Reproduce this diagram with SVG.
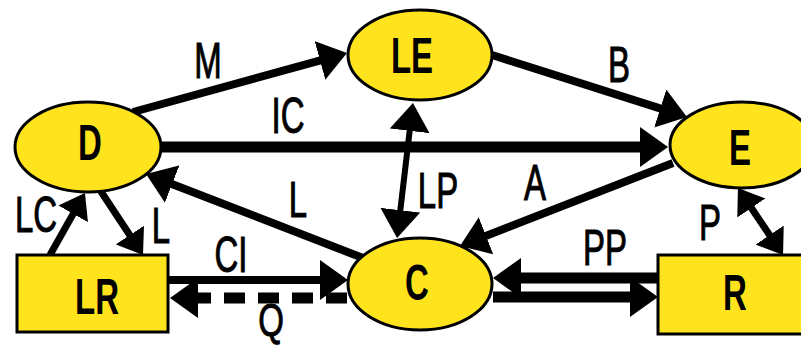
<svg xmlns="http://www.w3.org/2000/svg" width="801" height="349" viewBox="0 0 801 349">
<defs>
<style>
.node{fill:#FFE31C;stroke:#000;stroke-width:3}
.nt{font-family:"Liberation Sans",Arial,sans-serif;font-size:33px;font-weight:bold;fill:#000;text-anchor:middle}
.lt{font-family:"Liberation Sans",Arial,sans-serif;font-size:33px;fill:#000;stroke:#000;stroke-width:0.7px;text-anchor:middle}
.c{fill:none;stroke:#000;stroke-linecap:butt}
</style>
<marker id="ah" viewBox="0 0 28 40" markerWidth="28" markerHeight="40" markerUnits="userSpaceOnUse" refX="8" refY="20" orient="auto-start-reverse">
<path d="M0,0 L28,20 L0,40 Z" fill="#000"/>
</marker>
<marker id="ahs" viewBox="0 0 24 34" markerWidth="24" markerHeight="34" markerUnits="userSpaceOnUse" refX="8" refY="17" orient="auto-start-reverse">
<path d="M0,0 L24,17 L0,34 Z" fill="#000"/>
</marker>
</defs>
<rect width="801" height="349" fill="#fff"/>
<g id="connectors">
<path class="c" d="M133,112 L327.7,58.3" stroke-width="8" marker-end="url(#ah)"/>
<path class="c" d="M492,55 L667.9,110.9" stroke-width="8" marker-end="url(#ah)"/>
<path class="c" d="M161,147 L648,147" stroke-width="11" marker-end="url(#ah)"/>
<path class="c" d="M673,163 L478.6,238.7" stroke-width="8" marker-end="url(#ah)"/>
<path class="c" d="M363,258 L164.7,181.2" stroke-width="8" marker-end="url(#ah)"/>
<path class="c" d="M410.6,122.9 L399.4,218.1" stroke-width="6" marker-start="url(#ah)" marker-end="url(#ah)"/>
<path class="c" d="M746.9,201.3 L774.1,241.7" stroke-width="7" marker-start="url(#ahs)" marker-end="url(#ahs)"/>
<path class="c" d="M50,255 L77.1,206.9" stroke-width="7" marker-end="url(#ahs)"/>
<path class="c" d="M100,190 L134.2,241.7" stroke-width="7" marker-end="url(#ahs)"/>
<path class="c" d="M168,280 L328,280" stroke-width="8" marker-end="url(#ah)"/>
<path class="c" d="M190,298 L350,298" stroke-width="11" stroke-dasharray="21 13" marker-start="url(#ah)"/>
<path class="c" d="M658,278 L513,278" stroke-width="11" marker-end="url(#ah)"/>
<path class="c" d="M493,297 L638,297" stroke-width="11" marker-end="url(#ah)"/>
</g>
<g id="labels">
<text class="lt" transform="translate(208,78) scale(1,1.5)">M</text>
<text class="lt" transform="translate(619,82) scale(1,1.5)">B</text>
<text class="lt" transform="translate(288,133) scale(1,1.5)">IC</text>
<text class="lt" transform="translate(535,200) scale(1,1.5)">A</text>
<text class="lt" transform="translate(298,217) scale(1,1.5)">L</text>
<text class="lt" transform="translate(438,208) scale(1,1.5)">LP</text>
<text class="lt" transform="translate(710,240) scale(1,1.5)">P</text>
<text class="lt" transform="translate(605,265) scale(1,1.5)">PP</text>
<text class="lt" transform="translate(36,232) scale(1,1.5)">LC</text>
<text class="lt" transform="translate(161,243) scale(1,1.5)">L</text>
<text class="lt" transform="translate(231,272) scale(1,1.5)">CI</text>
<text class="lt" transform="translate(271,336) scale(1,1.4)">Q</text>
</g>
<g id="node-D">
<ellipse class="node" cx="88" cy="147" rx="73" ry="45"/>
<text class="nt" transform="translate(90,160) scale(1,1.5)">D</text>
</g>
<g id="node-LE">
<ellipse class="node" cx="420" cy="55" rx="72" ry="45"/>
<text class="nt" transform="translate(412,73) scale(1,1.5)">LE</text>
</g>
<g id="node-E">
<ellipse class="node" cx="742" cy="145" rx="72" ry="43"/>
<text class="nt" transform="translate(740,165) scale(1,1.5)">E</text>
</g>
<g id="node-C">
<ellipse class="node" cx="420" cy="284" rx="72" ry="46"/>
<text class="nt" transform="translate(417,300) scale(1,1.5)">C</text>
</g>
<g id="node-LR">
<rect class="node" x="17" y="255" width="151" height="77"/>
<text class="nt" transform="translate(97,314) scale(1,1.5)">LR</text>
</g>
<g id="node-R">
<rect class="node" x="658" y="255" width="150" height="79"/>
<text class="nt" transform="translate(735,310) scale(1,1.5)">R</text>
</g>
</svg>
